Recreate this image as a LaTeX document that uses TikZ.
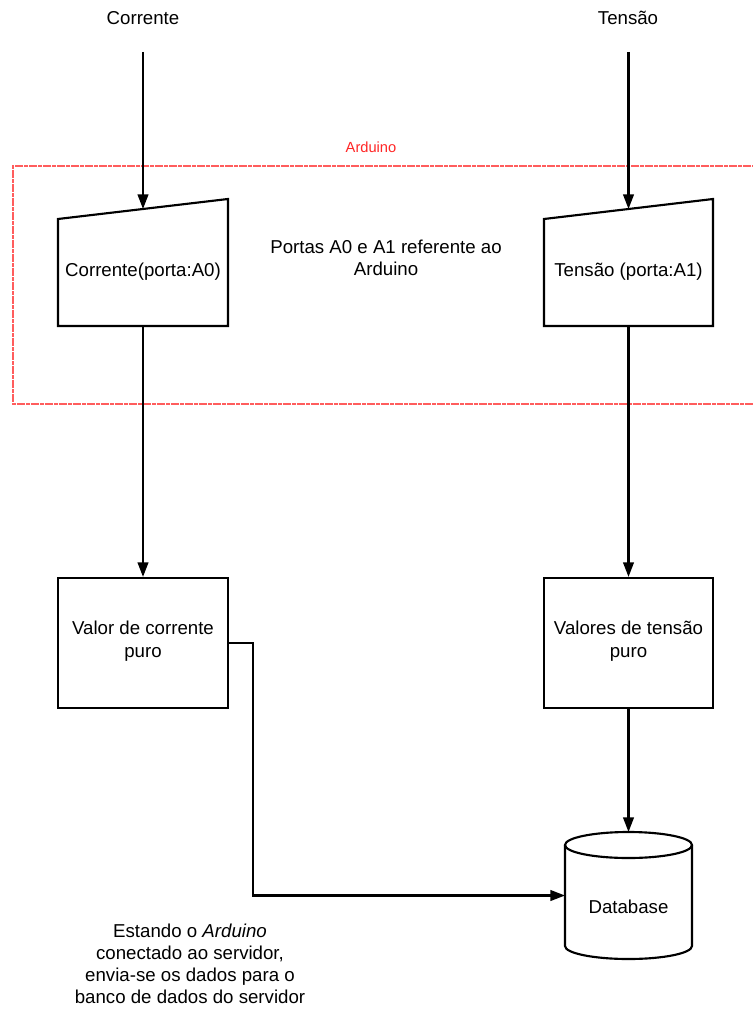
\documentclass[tikz,border=0pt]{standalone}
\usepackage{fontspec}
\setmainfont{Liberation Sans}
\usetikzlibrary{arrows.meta,calc}
\begin{document}
\begin{tikzpicture}[x=0.75pt,y=-0.75pt,
  txt/.style={inner sep=0pt,align=center,font=\fontsize{14}{17}\selectfont},
  shp/.style={draw=black,line width=1.6pt,line join=miter},
  arr/.style={draw=black,line width=1.6pt,-{Triangle[width=8pt,length=11pt]}},
  frame/.style={draw=red!90!white,opacity=0.7,line width=2pt,dash pattern=on 3pt off 0.5pt},
  hold/.style={inner sep=0pt,outer sep=0pt}]
\useasboundingbox (0,0) rectangle (752,1012);
\fill[white] (0,0) rectangle (752,1012);

% top labels
\node[txt] (lc) at (143,18) {Corrente};
\node[txt] (lt) at (628,18) {Tensão};

% Arduino frame
\draw[frame] (770,166) -- (13,166) -- (13,404) -- (770,404);
\node[txt,text=red!85!white,font=\fontsize{11}{13}\selectfont] (ard) at (371,147) {Arduino};
\node[txt] (portas) at (386,258) {Portas A0 e A1 referente ao\\Arduino};

% manual inputs
\draw[shp] (58,219) -- (228,199) -- (228,326) -- (58,326) -- cycle;
\coordinate (inAtop) at (143,209);
\node[hold,minimum width=127.5pt,minimum height=95.25pt] (inA) at (143,262.5) {};
\node[txt] (inAt) at (143,272) {Corrente(porta:A0)};

\draw[shp] (544,219) -- (713,199) -- (713,326) -- (544,326) -- cycle;
\coordinate (inBtop) at (628.5,209);
\node[hold,minimum width=126.75pt,minimum height=95.25pt] (inB) at (628.5,262.5) {};
\node[txt] (inBt) at (628.5,272) {Tensão (porta:A1)};

% value boxes
\node[shp,minimum width=127.5pt,minimum height=97.5pt,inner sep=0pt] (vA) at (143,643) {};
\node[txt] (vAt) at (143,641) {Valor de corrente\\puro};
\node[shp,minimum width=126.75pt,minimum height=97.5pt,inner sep=0pt] (vB) at (628.5,643) {};
\node[txt] (vBt) at (628.5,641) {Valores de tensão\\puro};

% database
\node[hold,minimum width=95.25pt,minimum height=95.25pt] (db) at (628.5,895.5) {};
\draw[shp] (628.5,845) ellipse [x radius=47.625pt, y radius=9.75pt];
\draw[shp] (565,845) -- (565,946) arc[start angle=180,end angle=360,x radius=47.625pt,y radius=9.75pt] -- (692,845);
\node[txt] (dbt) at (628.5,907) {Database};

% note
\node[txt,font=\fontsize{14}{16.5}\selectfont] (note) at (190,964) {Estando o \textit{Arduino}\\conectado ao servidor,\\envia-se os dados para o\\banco de dados do servidor};

% connectors
\draw[arr] (143,52) -- (inAtop);
\draw[arr] (628.5,52) -- (inBtop);
\draw[arr] (inA.south) -- (vA.north);
\draw[arr] (inB.south) -- (vB.north);
\draw[arr] (vB.south) -- (db.north);
\draw[arr] (vA.east) -- ++(24,0) |- (db.west);
\end{tikzpicture}
\end{document}
